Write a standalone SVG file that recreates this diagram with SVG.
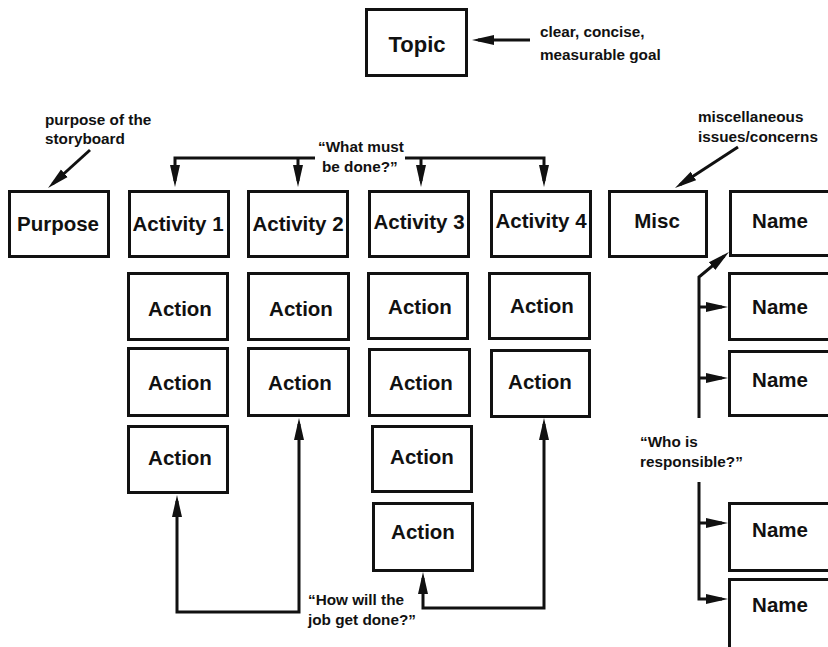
<svg xmlns="http://www.w3.org/2000/svg" width="828" height="647" viewBox="0 0 828 647">
<style>
.box{fill:#fff;stroke:#111;stroke-width:3}
.lbl{font-family:"Liberation Sans",Arial,Helvetica,sans-serif;font-weight:bold;font-size:20.5px;fill:#111;text-anchor:middle}
.note{font-family:"Liberation Sans",Arial,Helvetica,sans-serif;font-weight:bold;font-size:15.3px;fill:#111}
.con{fill:none;stroke:#111;stroke-width:3}
</style>
<defs>
<marker id="ah" markerUnits="userSpaceOnUse" markerWidth="24" markerHeight="12" refX="16" refY="6" orient="auto-start-reverse">
<path d="M0,1 L22,6 L0,11 Z" fill="#111"/>
</marker>
</defs>
<rect width="828" height="647" fill="#fff"/>

<g id="topic"><rect class="box" x="366.5" y="9.5" width="100" height="66"/><text class="lbl" x="417" y="52" style="font-size:22px">Topic</text></g>
<g id="purpose"><rect class="box" x="9.5" y="191.5" width="99" height="65"/><text class="lbl" x="58" y="231">Purpose</text></g>
<g id="activity1"><rect class="box" x="129.5" y="191.5" width="99" height="65"/><text class="lbl" x="178" y="231">Activity 1</text></g>
<g id="activity2"><rect class="box" x="248.5" y="191.5" width="99" height="65"/><text class="lbl" x="298" y="231">Activity 2</text></g>
<g id="activity3"><rect class="box" x="369.5" y="191.5" width="99" height="65"/><text class="lbl" x="419" y="229">Activity 3</text></g>
<g id="activity4"><rect class="box" x="491.5" y="191.5" width="99" height="65"/><text class="lbl" x="541" y="228">Activity 4</text></g>
<g id="misc"><rect class="box" x="609.5" y="191.5" width="97" height="65"/><text class="lbl" x="657" y="228">Misc</text></g>
<g id="name1"><rect class="box" x="730.5" y="191.5" width="110" height="64"/><text class="lbl" x="780" y="228">Name</text></g>

<g id="a1-1"><rect class="box" x="128.5" y="273.5" width="99" height="66"/><text class="lbl" x="180" y="316">Action</text></g>
<g id="a1-2"><rect class="box" x="128.5" y="348.5" width="99" height="67"/><text class="lbl" x="180" y="390">Action</text></g>
<g id="a1-3"><rect class="box" x="128.5" y="426.5" width="99" height="66"/><text class="lbl" x="180" y="465">Action</text></g>

<g id="a2-1"><rect class="box" x="248.5" y="273.5" width="100" height="66"/><text class="lbl" x="301" y="316">Action</text></g>
<g id="a2-2"><rect class="box" x="248.5" y="348.5" width="100" height="67"/><text class="lbl" x="300" y="390">Action</text></g>

<g id="a3-1"><rect class="box" x="368.5" y="273.5" width="99" height="65"/><text class="lbl" x="420" y="314">Action</text></g>
<g id="a3-2"><rect class="box" x="369.5" y="349.5" width="100" height="66"/><text class="lbl" x="421" y="390">Action</text></g>
<g id="a3-3"><rect class="box" x="372.5" y="426.5" width="99" height="65"/><text class="lbl" x="422" y="464">Action</text></g>
<g id="a3-4"><rect class="box" x="373.5" y="503.5" width="99" height="67"/><text class="lbl" x="423" y="539">Action</text></g>

<g id="a4-1"><rect class="box" x="489.5" y="273.5" width="100" height="65"/><text class="lbl" x="542" y="313">Action</text></g>
<g id="a4-2"><rect class="box" x="491.5" y="350.5" width="98" height="66"/><text class="lbl" x="540" y="389">Action</text></g>

<g id="name2"><rect class="box" x="729.5" y="273.5" width="110" height="66"/><text class="lbl" x="780" y="314">Name</text></g>
<g id="name3"><rect class="box" x="729.5" y="351.5" width="110" height="64"/><text class="lbl" x="780" y="387">Name</text></g>
<g id="name4"><rect class="box" x="729.5" y="503.5" width="110" height="67"/><text class="lbl" x="780" y="537">Name</text></g>
<g id="name5"><rect class="box" x="729.5" y="579.5" width="110" height="70"/><text class="lbl" x="780" y="612">Name</text></g>

<g id="connectors">
<path class="con" d="M530,40 H478" marker-end="url(#ah)"/>
<path class="con" d="M90,150 L52.5,184" marker-end="url(#ah)"/>
<path class="con" d="M738,147 L680,184.7" marker-end="url(#ah)"/>
<path class="con" d="M315,158 H175 V181" marker-end="url(#ah)"/>
<path class="con" d="M298,158 V181" marker-end="url(#ah)"/>
<path class="con" d="M405,158 H544 V181" marker-end="url(#ah)"/>
<path class="con" d="M421,158 V181" marker-end="url(#ah)"/>
<path class="con" d="M177,501 V612 H299 V424" marker-start="url(#ah)" marker-end="url(#ah)"/>
<path class="con" d="M423,578 V608 H544 V424" marker-start="url(#ah)" marker-end="url(#ah)"/>
<path class="con" d="M699,418 V277 L724.4,255.8" marker-end="url(#ah)"/>
<path class="con" d="M699,307 H722" marker-end="url(#ah)"/>
<path class="con" d="M699,378 H722" marker-end="url(#ah)"/>
<path class="con" d="M699,482 V599 H722" marker-end="url(#ah)"/>
<path class="con" d="M699,523 H722" marker-end="url(#ah)"/>
</g>

<g id="notes">
<text class="note" x="540" y="37">clear, concise,</text>
<text class="note" x="540" y="60">measurable goal</text>
<text class="note" x="45" y="125">purpose of the</text>
<text class="note" x="45" y="144">storyboard</text>
<text class="note" x="318" y="152">“What must</text>
<text class="note" x="322" y="172">be done?”</text>
<text class="note" x="698" y="122">miscellaneous</text>
<text class="note" x="698" y="142">issues/concerns</text>
<text class="note" x="308" y="605">“How will the</text>
<text class="note" x="308" y="625">job get done?”</text>
<text class="note" x="640" y="447">“Who is</text>
<text class="note" x="640" y="467">responsible?”</text>
</g>
</svg>
